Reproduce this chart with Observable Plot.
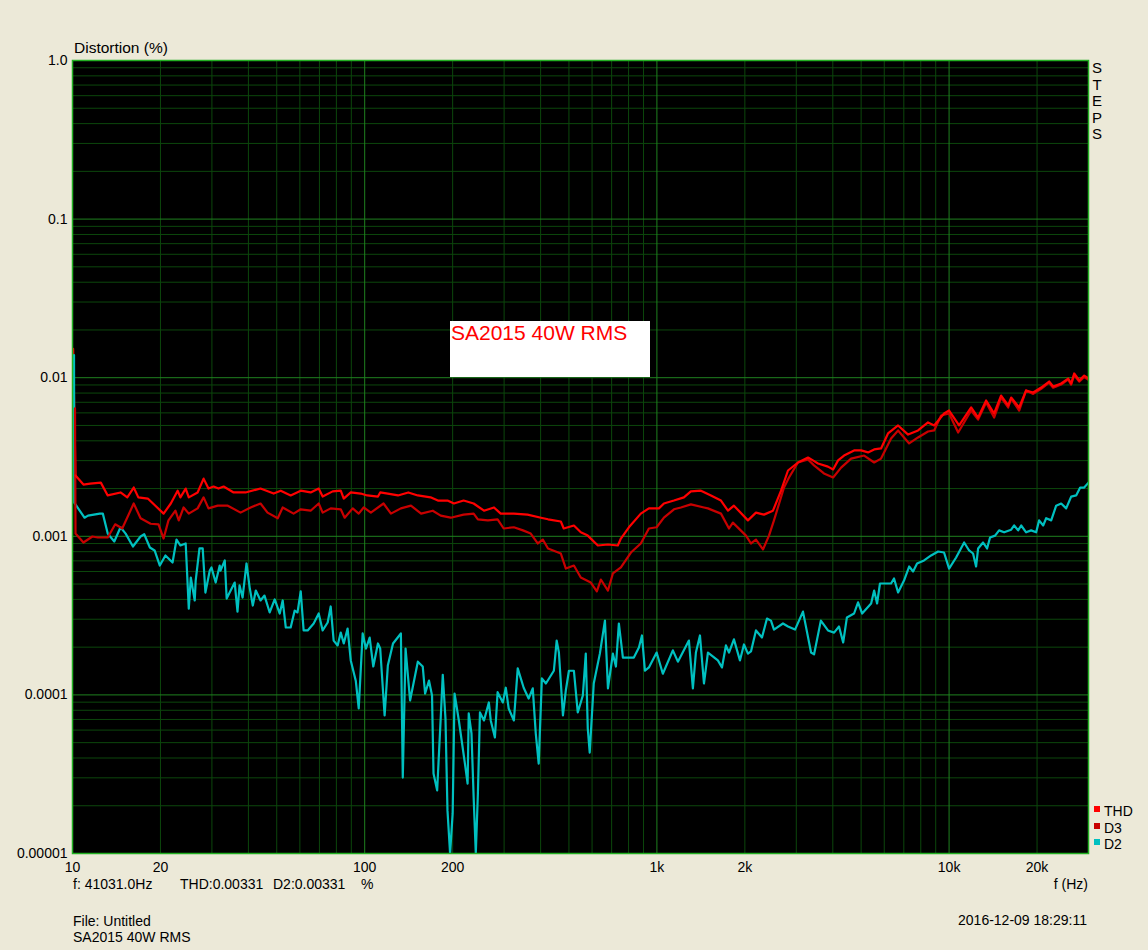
<!DOCTYPE html>
<html>
<head>
<meta charset="utf-8">
<script src="https://cdn.jsdelivr.net/npm/d3@7"></script>
<script src="https://cdn.jsdelivr.net/npm/@observablehq/plot@0.6"></script>
<style>
  html, body { margin: 0; padding: 0; background: #ECE9D8; }
  #wrap { position: relative; width: 1148px; height: 950px; font-family: "Liberation Sans", Arial, sans-serif; color: #000; }
  .t { position: absolute; font-size: 14px; line-height: 14px; white-space: pre; }
  .sq { position: absolute; width: 6px; height: 6px; }
  #note { position: absolute; left: 450px; top: 321px; width: 200px; height: 56px; background: #fff; }
  #note span { position: absolute; left: 1px; top: 1px; font-size: 21px; line-height: 21px; color: #ff0000; white-space: pre; }
</style>
</head>
<body>
<div id="wrap"></div>
<script>
// ---- tick labels ----
const xTickValues = [10, 20, 50, 100, 200, 500, 1000, 2000, 5000, 10000, 20000];
const xTickLabels = ["10", "20", "50", "100", "200", "500", "1k", "2k", "5k", "10k", "20k"];
const yTickValues = [1, 0.1, 0.01, 0.001, 0.0001, 0.00001];
const yTickLabels = ["1.0", "0.1", "0.01", "0.001", "0.0001", "0.00001"];

// ---- series: THD (%) ----
const thdFreq = [10.05, 10.24, 10.9, 11.5, 12.5, 13.2, 14.6, 15.4, 16.2, 16.8, 18.1, 20.5, 21.7, 22.9, 23.4, 24.4, 25.0, 26.8, 28.1, 29.2, 30.4, 31.6, 32.9, 35.6, 39.1, 44.0, 48.8, 51.6, 55.8, 60.4, 65.3, 69.6, 71.8, 77.7, 82.8, 84.8, 89.6, 96.9,
  102, 111, 113, 120, 130, 141, 152, 168, 178, 192, 202, 218, 236, 256, 277, 292, 324, 361, 401, 424, 469, 480, 520, 549, 580, 628, 680, 735, 753, 802, 881, 939,
  1016, 1057, 1144, 1237, 1307, 1415, 1531, 1657, 1751, 1835, 2049, 2183, 2325, 2496, 2660, 2810, 3040, 3290, 3420, 3560, 3850, 4010, 4170, 4370, 4730, 5000, 5280, 5540, 5850, 6180, 6690, 7240, 7830, 8470, 8890, 9610,
  10000, 10820, 11900, 12570, 13390, 14260, 15070, 15930, 16310, 17370, 18350, 19400, 20660, 22000, 22710, 24190, 25560, 26170, 26800, 27880, 29000, 30000];
const thdVal = [0.0152, 0.00242, 0.00212, 0.00215, 0.00218, 0.00181, 0.00189, 0.00176, 0.00203, 0.00176, 0.00173, 0.00139, 0.00161, 0.00194, 0.00176, 0.00200, 0.00176, 0.00189, 0.00231, 0.00200, 0.00206, 0.00200, 0.00206, 0.00189, 0.00189, 0.00200, 0.00186, 0.00194, 0.00181, 0.00194, 0.00189, 0.00200, 0.00178, 0.00192, 0.00194, 0.00173, 0.00189, 0.00186,
  0.00181, 0.00178, 0.00189, 0.00186, 0.00181, 0.00189, 0.00181, 0.00176, 0.00168, 0.00168, 0.00161, 0.00168, 0.00161, 0.00145, 0.00152, 0.00139, 0.00139, 0.00137, 0.00131, 0.00128, 0.00124, 0.00112, 0.00117, 0.00106, 0.00101, 0.000875, 0.000888, 0.000875, 0.000968, 0.00114, 0.00139, 0.00150,
  0.00150, 0.00161, 0.00168, 0.00176, 0.00192, 0.00194, 0.00181, 0.00168, 0.00145, 0.00156, 0.00126, 0.00141, 0.00137, 0.00145, 0.00194, 0.00260, 0.00292, 0.00314, 0.00301, 0.00288, 0.00275, 0.00264, 0.00301, 0.00323, 0.00348, 0.00348, 0.00338, 0.00353, 0.00358, 0.00445, 0.00500, 0.00438, 0.00465, 0.00522, 0.00500, 0.00595,
  0.00621, 0.00500, 0.00649, 0.00561, 0.00718, 0.00595, 0.00772, 0.00668, 0.00750, 0.00649, 0.00831, 0.00807, 0.00867, 0.00946, 0.00880, 0.00919, 0.00988, 0.00919, 0.01063, 0.00960, 0.01032, 0.00988];

// ---- series: D3 (%) ----
const d3Freq = [10.2, 10.24, 10.9, 11.7, 12.2, 13.2, 14.0, 14.8, 16.2, 17.1, 18.5, 19.7, 20.5, 21.3, 22.5, 23.1, 24.0, 25.0, 26.8, 28.1, 29.2, 31.4, 34.0, 37.6, 40.7, 44.0, 46.5, 50.4, 52.4, 57.1, 60.4, 65.3, 69.6, 71.8, 76.5, 82.8, 85.4, 91.0, 95.4, 99.2,
  105, 116, 123, 133, 144, 156, 171, 182, 197, 218, 236, 244, 264, 285, 299, 324, 348, 370, 391, 407, 424, 469, 488, 520, 549, 594, 623, 643, 680, 707, 753, 815, 881, 939, 998,
  1057, 1144, 1208, 1307, 1449, 1495, 1657, 1765, 1820, 2018, 2099, 2183, 2307, 2419, 2516, 2723, 2832, 3040, 3290, 3450, 3730, 4010, 4270, 4620, 5120, 5540, 5850, 6330, 6690, 7300, 7830, 8470, 8890, 9390,
  10000, 10740, 11900, 12570, 13390, 14260, 15070, 15930, 16310, 17370, 18350, 19400, 20660, 22000, 22710, 24190, 25560, 26170, 26800, 27880, 29000, 30000];
const d3Val = [0.0064, 0.00104, 0.000914, 0.000997, 0.000983, 0.000983, 0.00119, 0.00112, 0.00161, 0.00130, 0.00120, 0.00119, 0.000968, 0.00126, 0.00145, 0.00126, 0.00152, 0.00139, 0.00150, 0.00176, 0.00150, 0.00156, 0.00156, 0.00141, 0.00152, 0.00161, 0.00141, 0.00130, 0.00152, 0.00139, 0.00148, 0.00145, 0.00161, 0.00141, 0.00150, 0.00148, 0.00131, 0.00150, 0.00139, 0.00152,
  0.00141, 0.00161, 0.00139, 0.00150, 0.00156, 0.00139, 0.00145, 0.00135, 0.00131, 0.00137, 0.00139, 0.00128, 0.00126, 0.00128, 0.00112, 0.00114, 0.00109, 0.00104, 0.000901, 0.000954, 0.000838, 0.000779, 0.000626, 0.000654, 0.000550, 0.000511, 0.000449, 0.000534, 0.000455, 0.000583, 0.000636, 0.000790, 0.000901, 0.00112, 0.00114,
  0.00131, 0.00148, 0.00152, 0.00159, 0.00152, 0.00150, 0.00139, 0.00112, 0.00122, 0.00101, 0.000901, 0.000954, 0.000826, 0.00101, 0.00126, 0.00203, 0.00235, 0.00292, 0.00305, 0.00280, 0.00249, 0.00235, 0.00271, 0.00309, 0.00323, 0.00292, 0.00309, 0.00414, 0.00465, 0.00385, 0.00420, 0.00458, 0.00465, 0.00578,
  0.00595, 0.00451, 0.00621, 0.00545, 0.00698, 0.00561, 0.00750, 0.00649, 0.00739, 0.00621, 0.00831, 0.00790, 0.00850, 0.00930, 0.00865, 0.00905, 0.00975, 0.00905, 0.0104, 0.00945, 0.0101, 0.0097];

// ---- series: D2 (%) ----
const d2Freq = [10.12, 10.14, 10.99, 11.3, 12.4, 12.7, 13.2, 13.9, 14.6, 15.2, 16.1, 17.1, 17.6, 18.4, 19.1, 19.9, 20.8, 22.0, 22.7, 23.4, 24.4, 25.0, 25.4, 26.2, 26.4, 27.2, 27.9, 28.5, 29.5, 29.9, 30.9, 31.9, 32.1, 33.2, 33.7, 34.5, 35.9, 36.7, 37.3, 38.2, 39.4, 40.4, 41.4, 42.4, 44.0, 45.4, 47.3, 49.2, 51.2, 52.4, 53.7, 55.8, 57.6, 58.9, 60.4, 61.8, 63.8, 66.9, 69.6, 71.8, 74.7, 76.5, 78.3, 80.8, 82.8, 84.8, 87.4, 89.6, 93.2, 95.4, 98.4,
  101, 104, 107, 111, 113, 117, 120, 125, 133, 135, 138, 143, 152, 158, 161, 166, 170, 172, 177, 182, 185, 189, 192, 196, 200, 202, 203, 210, 220, 225, 227, 232, 236, 240, 244, 248, 256, 266, 270, 279, 285, 297, 304, 311, 324, 334, 350, 364, 376, 385, 394, 404, 417, 444, 454, 462, 477, 488, 500, 520, 536, 558, 571, 580, 589, 608, 638, 664, 680, 707, 724, 741, 765, 834, 868, 889, 910, 939, 998,
  1048, 1134, 1180, 1287, 1328, 1360, 1404, 1449, 1495, 1617, 1670, 1723, 1765, 1835, 1924, 1986, 2049, 2099, 2183, 2289, 2381, 2457, 2516, 2701, 2810, 2970, 3162, 3370, 3450, 3640, 3850, 4040, 4200, 4340, 4470, 4730, 4880, 5040, 5410, 5540, 5670, 5800, 6330, 6480, 6690, 7010, 7300, 7530, 7770, 8210, 8680, 9170, 9610,
  10000, 10570, 11260, 11710, 12080, 12370, 12570, 13070, 13490, 13810, 14370, 14830, 15430, 16310, 16700, 17230, 17650, 18350, 19090, 19860, 20330, 20990, 21490, 22360, 23250, 24190, 25160, 26170, 27220, 28100, 29000, 30000];
const d2Val = [0.0139, 0.00163, 0.00131, 0.00135, 0.00139, 0.00139, 0.00104, 0.000927, 0.00114, 0.00104, 0.000862, 0.000997, 0.00103, 0.000850, 0.000814, 0.000654, 0.000757, 0.000684, 0.000954, 0.000875, 0.000901, 0.000350, 0.000550, 0.000394, 0.000526, 0.000838, 0.000838, 0.000442, 0.000608, 0.000636, 0.000511, 0.000654, 0.000608, 0.000704, 0.000405, 0.000442, 0.000511, 0.000335, 0.000490, 0.000411, 0.000674, 0.000475, 0.000366, 0.000455, 0.000394, 0.000423, 0.000331, 0.000400, 0.000326, 0.000394, 0.000266, 0.000266, 0.000340, 0.000331, 0.000449, 0.000255, 0.000255, 0.000282, 0.000326, 0.000255, 0.000286, 0.000361, 0.000220, 0.000205, 0.000247, 0.000211, 0.000262, 0.000165, 0.000123, 0.0000821, 0.000244,
  0.000196, 0.000230, 0.000151, 0.000211, 0.000196, 0.0000742, 0.000153, 0.000211, 0.000244, 0.0000301, 0.000196, 0.0000922, 0.000162, 0.000151, 0.000102, 0.000123, 0.0000991, 0.0000319, 0.0000250, 0.0000710, 0.000134, 0.0000710, 0.0000187, 0.00001, 0.0000179, 0.0000571, 0.000102, 0.0000690, 0.0000375, 0.0000276, 0.0000764, 0.0000571, 0.0000225, 0.00001, 0.0000239, 0.0000775, 0.0000690, 0.0000896, 0.0000690, 0.0000539, 0.000104, 0.0000896, 0.000111, 0.0000821, 0.0000690, 0.000147, 0.000111, 0.0000949, 0.000110, 0.0000571, 0.0000369, 0.000127, 0.000118, 0.000142, 0.000220, 0.000185, 0.0000742, 0.000107, 0.000142, 0.000142, 0.0000775, 0.0000991, 0.000182, 0.0000614, 0.0000433, 0.000118, 0.000182, 0.000294, 0.000110, 0.000182, 0.000151, 0.000282, 0.000172, 0.000172, 0.000199, 0.000237, 0.000142, 0.000149, 0.000185,
  0.000136, 0.000191, 0.000162, 0.000220, 0.000110, 0.000185, 0.000237, 0.000118, 0.000185, 0.000165, 0.000149, 0.000205, 0.000185, 0.000224, 0.000165, 0.000208, 0.000182, 0.000188, 0.000255, 0.000230, 0.000303, 0.000294, 0.000258, 0.000282, 0.000270, 0.000258, 0.000335, 0.000185, 0.000180, 0.000294, 0.000255, 0.000247, 0.000270, 0.000214, 0.000308, 0.000326, 0.000383, 0.000326, 0.000377, 0.000455, 0.000377, 0.000504, 0.000504, 0.000542, 0.000442, 0.000526, 0.000645, 0.000600, 0.000674, 0.000704, 0.000757, 0.000802, 0.000790,
  0.000626, 0.000735, 0.000914, 0.000814, 0.000779, 0.000645, 0.000838, 0.000914, 0.000838, 0.000983, 0.00101, 0.00109, 0.00106, 0.00110, 0.00117, 0.00109, 0.00117, 0.00106, 0.00109, 0.00106, 0.00126, 0.00117, 0.00130, 0.00126, 0.00156, 0.00161, 0.00150, 0.00178, 0.00181, 0.00203, 0.00203, 0.00218];

const seriesNames = ["THD", "D3", "D2"];
const seriesColors = ["#ff0000", "#c80000", "#00c0c0"];

// ---- build tables ----
const toRows = (fs, vs) => fs.map((f, i) => ({ f, v: vs[i] }));
const thd = toRows(thdFreq, thdVal);
const d3 = toRows(d3Freq, d3Val);
const d2 = toRows(d2Freq, d2Val);

// grid lines (every 1..9 in each decade)
const majorX = [10, 100, 1000, 10000];
const minorX = [];
majorX.forEach(b => { for (let k = 2; k <= 9; k++) if (b * k <= 30000) minorX.push(b * k); });
const majorY = yTickValues.slice(1, 5);
const minorY = [];
yTickValues.slice(1).forEach(b => { for (let k = 2; k <= 9; k++) minorY.push(b * k); });

const xLab = new Map(xTickValues.map((v, i) => [v, xTickLabels[i]]));
const yLab = new Map(yTickValues.map((v, i) => [v, yTickLabels[i]]));

const minorC = "#0c470c";
const majorC = "#1f801f";

const chart = Plot.plot({
  width: 1148,
  height: 950,
  marginLeft: 72,
  marginRight: 60,
  marginTop: 60,
  marginBottom: 97,
  style: { background: "transparent", fontFamily: "'Liberation Sans', Arial, sans-serif", fontSize: "14px", color: "#000" },
  x: { type: "log", domain: [10, 30000] },
  y: { type: "log", domain: [0.00001, 1] },
  marks: [
    Plot.frame({ fill: "#000", stroke: null }),
    Plot.ruleX(minorX, { stroke: minorC, strokeWidth: 1 }),
    Plot.ruleY(minorY, { stroke: minorC, strokeWidth: 1 }),
    Plot.ruleX(majorX.slice(1), { stroke: majorC, strokeWidth: 1 }),
    Plot.ruleY(majorY, { stroke: majorC, strokeWidth: 1 }),
    Plot.line(thd.slice(0, 2), { x: "f", y: "v", stroke: seriesColors[0], strokeWidth: 2.2, clip: true }),
    Plot.line(d2, { x: "f", y: "v", stroke: seriesColors[2], strokeWidth: 2.2, clip: true }),
    Plot.line(d3, { x: "f", y: "v", stroke: seriesColors[1], strokeWidth: 2.2, clip: true }),
    Plot.line(thd.slice(1), { x: "f", y: "v", stroke: seriesColors[0], strokeWidth: 2.2, clip: true }),
    Plot.frame({ stroke: "#22b022", strokeWidth: 1.5 }),
    Plot.axisX(xTickValues, { tickSize: 0, tickPadding: 9, tickFormat: d => xLab.get(d), label: null, fill: "#000" }),
    Plot.axisY(yTickValues, { tickSize: 0, tickPadding: 5, tickFormat: d => yLab.get(d), label: null, fill: "#000" })
  ]
});

const wrap = document.getElementById("wrap");
wrap.appendChild(chart);
chart.style.position = "absolute";
chart.style.left = "0px";
chart.style.top = "0px";

function addText(txt, left, baseline, opts = {}) {
  const d = document.createElement("div");
  d.className = "t";
  d.textContent = txt;
  const fs = opts.size || 14;
  d.style.fontSize = fs + "px";
  d.style.lineHeight = fs + "px";
  d.style.top = (baseline - fs * 0.846) + "px";
  if (opts.right != null) { d.style.right = (1148 - opts.right) + "px"; d.style.textAlign = "right"; }
  else if (opts.center) { d.style.left = (left - 10) + "px"; d.style.width = "20px"; d.style.textAlign = "center"; }
  else d.style.left = left + "px";
  wrap.appendChild(d);
}

addText("Distortion (%)", 74, 53, { size: 15.5 });
addText("f: 41031.0Hz", 73, 889);
addText("THD:0.00331", 180, 889);
addText("D2:0.00331", 273, 889);
addText("%", 361, 889);
addText("f (Hz)", 0, 889, { right: 1088 });
addText("File: Untitled", 73, 926);
addText("SA2015 40W RMS", 73, 942);
addText("2016-12-09 18:29:11", 0, 925, { right: 1087 });

["S", "T", "E", "P", "S"].forEach((ch, i) => addText(ch, 1097, 73 + i * 16.5, { center: true, size: 15 }));

seriesNames.forEach((name, i) => {
  const sq = document.createElement("div");
  sq.className = "sq";
  sq.style.left = "1094px";
  sq.style.top = (806 + i * 16.5) + "px";
  sq.style.background = seriesColors[i];
  wrap.appendChild(sq);
  addText(name, 1104, 816 + i * 16.5);
});

const note = document.createElement("div");
note.id = "note";
const ns = document.createElement("span");
ns.textContent = "SA2015 40W RMS";
note.appendChild(ns);
wrap.appendChild(note);
</script>
</body>
</html>
